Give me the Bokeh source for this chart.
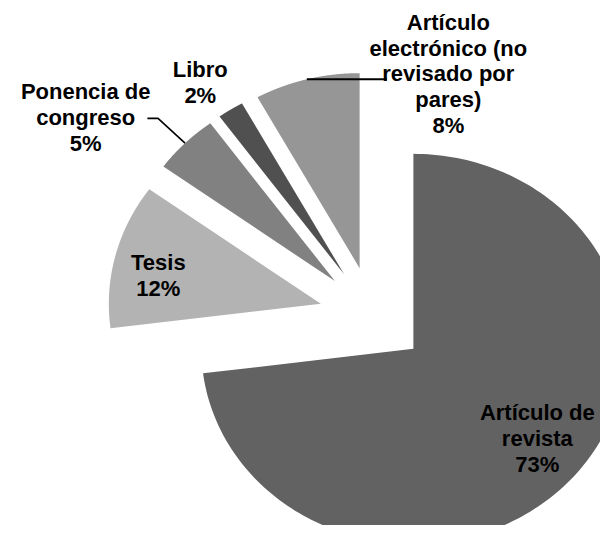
import numpy as np
from bokeh.plotting import figure
from bokeh.models import Range1d, ColumnDataSource
from bokeh.embed import file_html
from bokeh.resources import INLINE
from bokeh.core.properties import value

# ---- data (clockwise from 12 o'clock) ----
categories = ["Artículo de\nrevista", "Tesis", "Ponencia de\ncongreso", "Libro",
              "Artículo\nelectrónico (no\nrevisado por\npares)"]
percent = [73, 12, 5, 2, 8]
colors = ["#626262", "#b3b3b3", "#818181", "#505050", "#969696"]

# ---- layout / style ----
explode = 0.254
label_r = [0.744, 0.78, 1.444, 1.195, 1.08]
label_dang = [-3.2, -3.7, -9.5, -2.2, 37.2]
FONT = "Liberation Sans"

vals = np.array(percent, dtype=float)
frac = vals / vals.sum()
ends = np.cumsum(frac) * 360.0
starts = ends - frac * 360.0
mids = (starts + ends) / 2.0

xs, ys, offs = [], [], []
for a0, a1, am in zip(starts, ends, mids):
    ox = explode * np.sin(np.radians(am))
    oy = explode * np.cos(np.radians(am))
    offs.append((ox, oy))
    t = np.radians(np.linspace(a0, a1, 200))
    px = np.concatenate([[ox], ox + np.sin(t), [ox]])
    py = np.concatenate([[oy], oy + np.cos(t), [oy]])
    xs.append(list(px))
    ys.append(list(py))

p = figure(width=600, height=525, output_backend="svg", toolbar_location=None,
           x_range=Range1d(-1.757, 1.0731), y_range=Range1d(-1.0738, 1.6185),
           min_border=0, background_fill_color="white", border_fill_color="white")
p.axis.visible = False
p.grid.visible = False
p.outline_line_color = None

src = ColumnDataSource(dict(xs=xs, ys=ys, color=colors, cat=categories))
p.patches("xs", "ys", source=src, fill_color="color", line_color=None)

# labels
lx, ly, ltxt = [], [], []
for i, (am, (ox, oy)) in enumerate(zip(mids, offs)):
    a = np.radians(am + label_dang[i])
    lx.append(ox + label_r[i] * np.sin(a))
    ly.append(oy + label_r[i] * np.cos(a))
    ltxt.append(f"{categories[i]}\n{percent[i]}%")

p.text(x=lx, y=ly, text=ltxt, text_font=value(FONT), text_font_style="bold",
       text_font_size="22px", text_align="center", text_baseline="middle",
       text_line_height=1.03, text_color="#000000")

# leader lines
# Ponencia de congreso
i = 2
ox, oy = offs[i]
a = np.radians(mids[i])
ax_, ay_ = ox + np.sin(a), oy + np.cos(a)
kx, ky = ox + 1.18 * np.sin(a), oy + 1.18 * np.cos(a)
p.line([ax_, kx, kx - 0.05], [ay_, ky, ky], line_color="black", line_width=1.6)
# Artículo electrónico
i = 4
ox, oy = offs[i]
a = np.radians(mids[i])
ax_, ay_ = ox + np.sin(a), oy + np.cos(a)
p.line([ax_, lx[i] - 0.29], [ay_, ay_], line_color="black", line_width=1.8)

open("out.html", "w").write(file_html(p, INLINE))
